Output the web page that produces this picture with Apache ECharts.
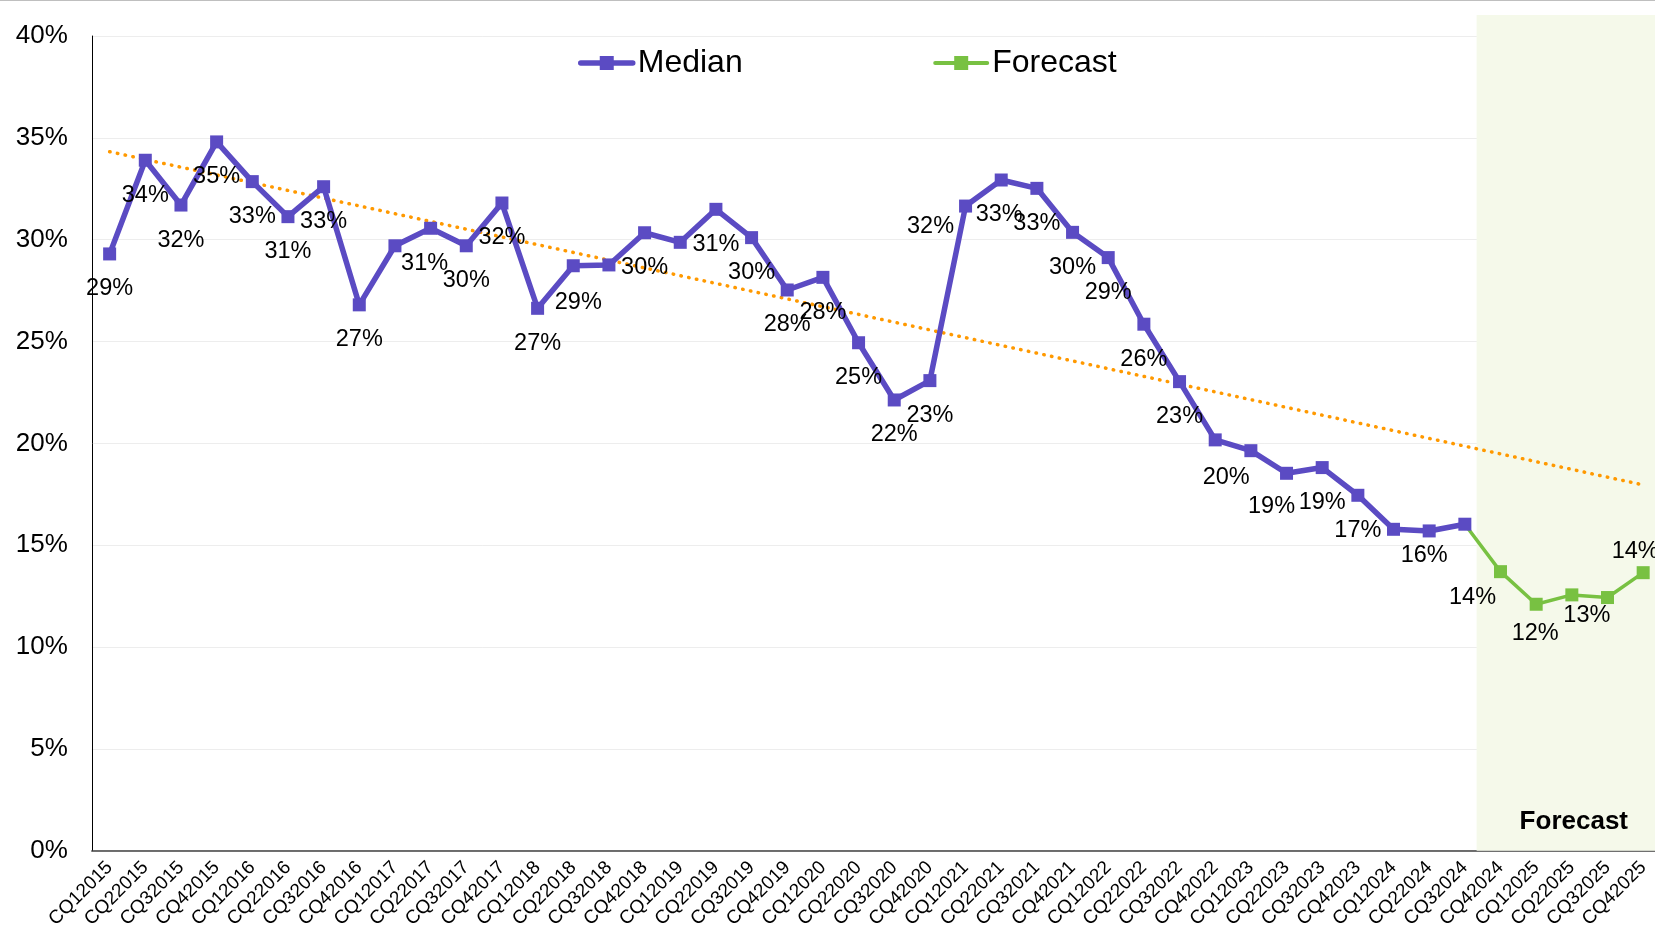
<!DOCTYPE html>
<html>
<head>
<meta charset="utf-8">
<script src="https://cdn.jsdelivr.net/npm/echarts@6/dist/echarts.min.js"></script>
<style>
html,body{margin:0;padding:0;background:#fff;}
#wrap{position:relative;width:1655px;height:933px;overflow:hidden;}
#c{position:absolute;left:0;top:0;width:1655px;height:933px;}
#topline{position:absolute;left:0;top:0;width:1655px;height:1px;background:#BFBFBF;z-index:5;}
</style>
</head>
<body>
<div id="wrap"><div id="c"></div><div id="topline"></div></div>
<script>
// ---------- DATA ----------
const categories = [
  'CQ12015','CQ22015','CQ32015','CQ42015',
  'CQ12016','CQ22016','CQ32016','CQ42016',
  'CQ12017','CQ22017','CQ32017','CQ42017',
  'CQ12018','CQ22018','CQ32018','CQ42018',
  'CQ12019','CQ22019','CQ32019','CQ42019',
  'CQ12020','CQ22020','CQ32020','CQ42020',
  'CQ12021','CQ22021','CQ32021','CQ42021',
  'CQ12022','CQ22022','CQ32022','CQ42022',
  'CQ12023','CQ22023','CQ32023','CQ42023',
  'CQ12024','CQ22024','CQ32024','CQ42024',
  'CQ12025','CQ22025','CQ32025','CQ42025'
];
// Median (CQ12015 .. CQ32024)
const medianValues = [
  29.30, 33.90, 31.70, 34.80,
  32.85, 31.13, 32.60, 26.80,
  29.70, 30.56, 29.70, 31.80,
  26.63, 28.72, 28.76, 30.34,
  29.87, 31.49, 30.10, 27.53,
  28.15, 24.94, 22.13, 23.08,
  31.65, 32.93, 32.52, 30.36,
  29.12, 25.85, 23.03, 20.17,
  19.64, 18.53, 18.81, 17.45,
  15.78, 15.70, 16.03
];
// Forecast (CQ42024 .. CQ42025)
const forecastValues = [13.70, 12.10, 12.56, 12.43, 13.65];
// Linear trend line values at first and last category
const trendEnds = [34.32, 17.96];
// Y axis ticks
const yMin = 0, yMax = 40, yStep = 5;

// ---------- LAYOUT / STYLE (not data) ----------
const FONT = '"Liberation Sans", Arial, sans-serif';
const PURPLE = '#5B4BC3';
const GREEN = '#78C142';
const ORANGE = '#FF9900';
const SHADE = '#F5F9EA';
const hiddenLabels = [8, 14, 16, 32, 36, 38, 42];
const defaultOffset = [0, 35];
const labelOffsets = {
  9: [-6, 35], 13: [5, 37], 24: [-35, 20], 25: [-2, 35],
  31: [11, 38], 33: [-15, 33], 37: [-5, 25],
  39: [-28, 26], 40: [-1, 29], 41: [15, 21], 43: [-8, -21]
};
const shadeStart = 38.33;   // category units on hidden value axis
const shadeTopPx = 15;

function pctLabel(v) { return Math.round(v) + '%'; }
function labelFor(idx) {
  const show = hiddenLabels.indexOf(idx) < 0;
  return { show: show, offset: labelOffsets[idx] || defaultOffset };
}

const medianData = medianValues.map((v, i) => ({ value: v, label: labelFor(i) }));
const linkIdx = medianValues.length - 1;
const forecastData = categories.map((c, i) => {
  if (i < linkIdx) return null;
  if (i === linkIdx) return { value: medianValues[linkIdx], symbolSize: 0, label: { show: false } };
  return { value: forecastValues[i - linkIdx - 1], label: labelFor(i) };
});

const labelStyle = {
  position: 'inside',
  fontSize: 23.5,
  fontFamily: FONT,
  color: '#000',
  formatter: p => pctLabel(p.value)
};

const chart = echarts.init(document.getElementById('c'), null, { renderer: 'canvas' });
chart.setOption({
  animation: false,
  backgroundColor: '#fff',
  textStyle: { fontFamily: FONT },
  grid: { left: 91.8, right: -6, top: 36, bottom: 82.3, containLabel: false, outerBoundsMode: 'none' },
  legend: {
    data: [
      { name: 'Median', lineStyle: { width: 5.5, cap: 'round' } },
      { name: 'Forecast', lineStyle: { width: 4, cap: 'round' } }
    ],
    left: 573, top: 42,
    itemWidth: 52, itemHeight: 17.5, itemGap: 190.5,
    textStyle: { fontSize: 32, color: '#000', fontFamily: FONT },
    selectedMode: false
  },
  xAxis: [
    {
      type: 'category', data: categories, boundaryGap: true,
      axisLine: { onZero: false, lineStyle: { color: '#404040', width: 1.5 } },
      axisTick: { show: false },
      axisLabel: { interval: 0, rotate: 45, fontSize: 19, color: '#000', fontFamily: FONT, margin: 14 },
      splitLine: { show: false }
    },
    {
      type: 'value', min: -0.5, max: categories.length - 0.5, show: false,
      splitLine: { show: false }
    }
  ],
  yAxis: {
    type: 'value', min: yMin, max: yMax, interval: yStep,
    axisLine: { show: true, onZero: false, lineStyle: { color: '#000', width: 1 } },
    axisTick: { show: false },
    axisLabel: { formatter: '{value}%', fontSize: 26, color: '#000', fontFamily: FONT, margin: 24 },
    splitLine: { lineStyle: { color: '#EDEDED', width: 1 } }
  },
  series: [
    {
      name: 'shade', type: 'line', xAxisIndex: 1, data: [], z: 0, silent: true,
      markArea: {
        silent: true,
        itemStyle: { color: SHADE },
        label: {
          show: true, position: 'insideBottom', distance: 16, offset: [5, 0],
          fontSize: 26, fontWeight: 'bold', color: '#000', fontFamily: FONT
        },
        data: [[
          { name: 'Forecast', xAxis: shadeStart, y: shadeTopPx },
          { xAxis: categories.length - 0.5, yAxis: yMin }
        ]]
      }
    },
    {
      name: 'trend', type: 'line', xAxisIndex: 1, z: 1, silent: true,
      symbol: 'none',
      data: [[0, trendEnds[0]], [categories.length - 1, trendEnds[1]]],
      lineStyle: { color: ORANGE, width: 3.5, type: [0.5, 7.4], cap: 'round' }
    },
    {
      name: 'Forecast', type: 'line', z: 2,
      data: forecastData,
      symbol: 'rect', symbolSize: 13,
      itemStyle: { color: GREEN },
      lineStyle: { color: GREEN, width: 3.5 },
      label: labelStyle
    },
    {
      name: 'Median', type: 'line', z: 3,
      data: medianData,
      symbol: 'rect', symbolSize: 13,
      itemStyle: { color: PURPLE },
      lineStyle: { color: PURPLE, width: 5.5 },
      label: labelStyle
    }
  ]
});
</script>
</body>
</html>
